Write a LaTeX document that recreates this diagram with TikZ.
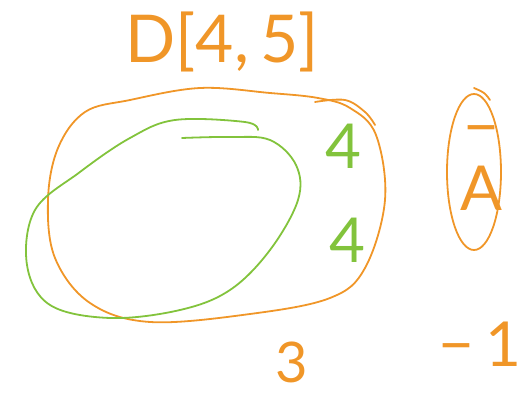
\documentclass[tikz,border=0pt]{standalone}
\usepackage{fontspec}
\setmainfont{Lato}
\definecolor{ink}{RGB}{240,150,40}
\definecolor{leaf}{RGB}{130,195,60}
\tikzset{
  stroke/.style={line width=1.8pt, line cap=round, line join=round},
  orangestroke/.style={stroke, draw=ink},
  greenstroke/.style={stroke, draw=leaf},
  hand/.style={font=\fontsize{#1}{#1}\selectfont, inner sep=0pt, anchor=center},
}
\begin{document}
\begin{tikzpicture}[x=1pt,y=-1pt]
\useasboundingbox (0,0) rectangle (520,398);
% title
\node[hand=66, text=ink] (title) at (222,42) {D[4,\,5]};
% orange blob
\draw[orangestroke] plot[smooth cycle, tension=0.6] coordinates {
  (318,98) (270,93) (200,88) (130,100) (85,112) (58,148) (48,200)
  (55,258) (90,303) (150,322) (250,314) (330,298) (365,268) (385,200)
  (376,135) (350,108)};
\draw[orangestroke] plot[smooth, tension=0.6] coordinates {
  (315,102) (345,100) (365,112) (375,125)};
% green loop
\draw[greenstroke] plot[smooth, tension=0.6] coordinates {
  (182,138) (230,137) (270,140) (296,165) (298,200) (270,250) (230,290)
  (180,310) (110,318) (50,305) (27,265) (35,210) (80,172) (130,138)
  (175,120) (245,122) (258,130)};
% green labels
\node[hand=62, text=leaf] (g1) at (343,146) {4};
\node[hand=62, text=leaf] (g2) at (347,240) {4};
% right ellipse
\draw[orangestroke] (474,172) ellipse [x radius=27, y radius=78];
\draw[orangestroke] plot[smooth, tension=0.6] coordinates {(474,88) (484,93) (490,100)};
\node[hand=62, text=ink, align=center] (ea) at (481,168) {−\\A};
% bottom labels
\node[hand=56, text=ink] (three) at (292,362) {3};
\node[hand=62, text=ink] (m1) at (480,344) {−\,1};
\end{tikzpicture}
\end{document}
